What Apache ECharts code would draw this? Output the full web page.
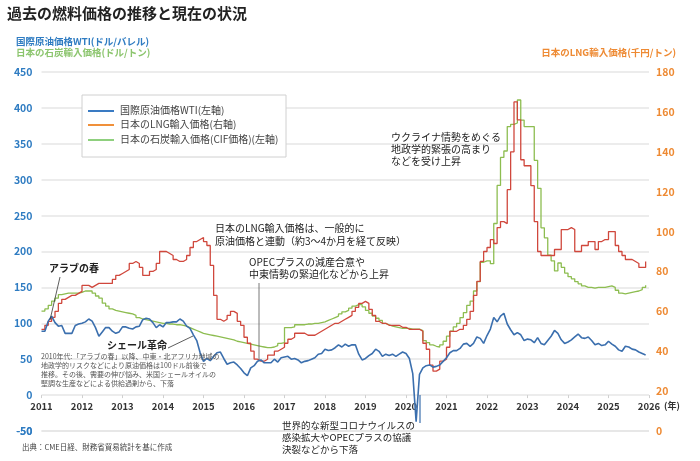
<!DOCTYPE html>
<html>
<head>
<meta charset="utf-8">
<title>過去の燃料価格の推移と現在の状況</title>
<script src="https://cdn.jsdelivr.net/npm/echarts@6/dist/echarts.min.js"></script>
<style>
  html, body { margin: 0; padding: 0; background: #fff; }
  #main { width: 700px; height: 461px; }
</style>
</head>
<body>
<div id="main"></div>
<script>
  // 月次データ 2011年1月〜2025年12月
  var startYear = 2011;
  var years = [2011, 2012, 2013, 2014, 2015, 2016, 2017, 2018, 2019, 2020, 2021, 2022, 2023, 2024, 2025, 2026];

  // 国際原油価格WTI (ドル/バレル) 左軸
  var wti = [
    89, 89, 103, 110, 101, 96, 97, 86, 86, 86, 97, 99,
    100, 102, 106, 103, 94, 82, 88, 94, 94, 89, 86, 88,
    95, 95, 93, 92, 95, 96, 105, 107, 106, 101, 94, 98,
    95, 101, 101, 102, 102, 106, 103, 96, 93, 84, 76, 59,
    47, 51, 48, 54, 59, 60, 51, 43, 45, 46, 42, 37,
    31, 27, 38, 41, 47, 49, 45, 45, 45, 50, 46, 52,
    53, 54, 50, 51, 49, 45, 47, 48, 50, 52, 57, 58,
    64, 62, 63, 66, 70, 67, 71, 68, 70, 70, 57, 49,
    51, 55, 58, 64, 61, 54, 57, 55, 57, 54, 57, 60,
    58, 51, 30, -37, 29, 38, 41, 42, 39, 40, 42, 47,
    52, 59, 62, 62, 65, 71, 72, 68, 72, 81, 79, 72,
    83, 92, 108, 102, 110, 114, 99, 91, 84, 87, 84, 76,
    78, 77, 73, 80, 72, 70, 76, 82, 90, 86, 77, 72,
    74, 77, 81, 85, 80, 79, 81, 76, 70, 72, 69, 70,
    75, 71, 68, 63, 61, 68, 67, 64, 63, 60, 58, 56
  ];

  // 日本のLNG輸入価格 (千円/トン) 右軸
  var lng = [
    51, 53, 55, 57, 60, 64, 66, 67, 68, 68, 69, 70,
    73, 73, 72, 73, 74, 74, 74, 74, 74, 76, 78, 79,
    80, 81, 84, 85, 84, 82, 78, 78, 80, 81, 84, 90,
    90, 89, 88, 86, 85, 85, 86, 88, 92, 95, 96, 97,
    95, 93, 83, 68, 56, 55, 56, 58, 60, 59, 55, 53,
    47, 44, 40, 36, 35, 35, 36, 38, 38, 40, 41, 42,
    44, 46, 47, 49, 49, 49, 48, 48, 48, 49, 50, 51,
    52, 53, 54, 54, 55, 56, 57, 58, 60, 62, 64, 65,
    64, 61, 58, 55, 54, 54, 53, 53, 53, 53, 52, 52,
    51, 51, 51, 51, 50, 44, 41, 33, 30, 31, 35, 36,
    42, 50, 50, 51, 51, 53, 56, 60, 68, 75, 85, 90,
    92, 96, 94, 102, 105, 104, 121, 140, 165, 156, 136, 133,
    133, 123, 105, 90, 88, 88, 88, 88, 91, 91, 101, 101,
    102, 101, 90, 90, 93, 93, 95, 95, 91, 95, 96, 96,
    100, 100, 93, 90, 88, 86, 86, 85, 84, 82, 82, 85
  ];

  // 日本の石炭輸入価格 CIF (ドル/トン) 左軸
  var coal = [
    117, 120, 125, 131, 135, 140, 141, 142, 142, 142, 142, 143,
    145, 145, 145, 142, 138, 135, 128, 124, 120, 118, 117, 116,
    115, 114, 113, 111, 108, 106, 105, 104, 103, 102, 101, 100,
    100, 99, 99, 98, 98, 97, 96, 94, 92, 90, 88, 86,
    85, 84, 83, 82, 81, 80, 79, 78, 77, 75, 74, 73,
    72, 71, 70, 69, 68, 67, 66, 66, 67, 69, 72, 73,
    94, 94, 95, 98, 98, 98, 99, 99, 100, 100, 101, 102,
    104, 106, 108, 110, 113, 116, 118, 121, 124, 126, 126, 123,
    118, 114, 110, 107, 104, 100, 98, 96, 95, 94, 93, 93,
    93, 92, 92, 92, 90, 76, 73, 70, 68, 67, 70, 75,
    82, 89, 95, 100, 108, 115, 125, 131, 145, 158, 185, 187,
    187, 183, 239, 292, 331, 340, 374, 377, 379, 411, 383, 374,
    374, 374, 327, 288, 233, 219, 195, 187, 173, 184, 178, 170,
    165, 162, 158, 155, 152, 150, 150, 149, 150, 150, 150, 151,
    152, 150, 146, 142, 141, 142, 143, 144, 145, 147, 150, 153
  ];

  var leftTicks = { min: -50, max: 450, step: 50 };
  var rightTicks = { min: 0, max: 180, step: 20 };

  function monthly(arr) {
    return arr.map(function (v, i) { return [startYear + i / 12, v]; });
  }

  var font = '"Noto Sans CJK JP", "Noto Sans", sans-serif';
  var blue = '#3b6fae', red = '#d0473c', green = '#8dbd50';
  var leftLabelColor = '#2f7cc2';

  // グリッド：x軸(年)は左軸の0の位置に置く
  var gridTop = 72, gridBottom = 30, chartH = 461;
  var plotH = chartH - gridTop - gridBottom;
  var zeroOffset = -plotH * (0 - leftTicks.min) / (leftTicks.max - leftTicks.min);

  var myChart = echarts.init(document.getElementById('main'));

  var option = {
    animation: false,
    textStyle: { fontFamily: font },
    grid: { left: 41.5, right: 51, top: gridTop, bottom: gridBottom },
    xAxis: {
      type: 'value',
      min: years[0],
      max: years[years.length - 1],
      interval: 1,
      offset: zeroOffset,
      axisLine: { show: false, onZero: false },
      axisTick: { show: true, length: 3, lineStyle: { color: '#cfcfcf' } },
      axisLabel: { color: '#333', fontSize: 9.5, fontWeight: 'bold', margin: 7, formatter: function (v) { return String(v); } },
      splitLine: { show: false }
    },
    yAxis: [
      {
        type: 'value',
        position: 'left',
        min: leftTicks.min, max: leftTicks.max, interval: leftTicks.step,
        axisLine: { show: false },
        axisTick: { show: false },
        axisLabel: { color: leftLabelColor, fontSize: 10.5, fontWeight: 'bold', margin: 9, showMinLabel: true, showMaxLabel: true },
        splitLine: { showMinLine: true, showMaxLine: true, lineStyle: { color: '#e6e6e6', width: 1.5 } }
      },
      {
        type: 'value',
        position: 'right',
        min: rightTicks.min, max: rightTicks.max, interval: rightTicks.step,
        axisLine: { show: false },
        axisTick: { show: false },
        axisLabel: { color: '#ee8a33', fontSize: 10.5, fontWeight: 'bold', margin: 7, showMinLabel: true, showMaxLabel: true },
        splitLine: { show: false }
      }
    ],
    series: [
      {
        name: '日本の石炭輸入価格(CIF価格)(左軸)',
        type: 'line', yAxisIndex: 0, step: 'end', symbol: 'none',
        lineStyle: { color: green, width: 1.3 },
        data: monthly(coal), z: 2
      },
      {
        name: '日本のLNG輸入価格(右軸)',
        type: 'line', yAxisIndex: 1, step: 'end', symbol: 'none',
        lineStyle: { color: red, width: 1.3 },
        data: monthly(lng), z: 3
      },
      {
        name: '国際原油価格WTI(左軸)',
        type: 'line', yAxisIndex: 0, symbol: 'none', clip: false,
        lineStyle: { color: blue, width: 1.6 },
        data: monthly(wti), z: 4,
        // 左軸の最下段 (-50) の目盛線とラベル
        markLine: {
          silent: true,
          symbol: ['none', 'none'],
          lineStyle: { color: '#e6e6e6', width: 1.5, type: 'solid' },
          label: { show: true, position: 'start', distance: 9, color: leftLabelColor, fontSize: 10.5, fontWeight: 'bold', formatter: String(leftTicks.min) },
          data: [{ yAxis: leftTicks.min }]
        }
      }
    ],
    graphic: [
      // タイトル・軸名
      { type: 'text', left: 7, top: 6, style: { text: '過去の燃料価格の推移と現在の状況', font: 'bold 15px ' + font, fill: '#222' } },
      { type: 'text', left: 16, top: 37, style: { text: '国際原油価格WTI(ドル/バレル)', font: 'bold 9.5px ' + font, fill: leftLabelColor } },
      { type: 'text', left: 16, top: 48, style: { text: '日本の石炭輸入価格(ドル/トン)', font: 'bold 9.5px ' + font, fill: '#8cc56e' } },
      { type: 'text', right: 24, top: 48, style: { text: '日本のLNG輸入価格(千円/トン)', font: 'bold 9.5px ' + font, fill: '#ee8a33' } },
      { type: 'text', left: 664, top: 401, style: { text: '(年)', font: 'bold 9px ' + font, fill: '#333' } },

      // 凡例
      { type: 'rect', shape: { x: 82, y: 95, width: 204, height: 62 }, style: { fill: '#fff', stroke: '#d0d0d0', lineWidth: 1 }, z: 10 },
      { type: 'line', shape: { x1: 88, y1: 111, x2: 114, y2: 111 }, style: { stroke: '#3a7bc3', lineWidth: 2 }, z: 11 },
      { type: 'line', shape: { x1: 88, y1: 125, x2: 114, y2: 125 }, style: { stroke: '#f0903a', lineWidth: 2 }, z: 11 },
      { type: 'line', shape: { x1: 88, y1: 140, x2: 114, y2: 140 }, style: { stroke: '#8fd07e', lineWidth: 2 }, z: 11 },
      { type: 'text', left: 120, top: 105, z: 11, style: { text: '国際原油価格WTI(左軸)', font: '10px ' + font, fill: '#444' } },
      { type: 'text', left: 120, top: 119, z: 11, style: { text: '日本のLNG輸入価格(右軸)', font: '10px ' + font, fill: '#444' } },
      { type: 'text', left: 120, top: 134, z: 11, style: { text: '日本の石炭輸入価格(CIF価格)(左軸)', font: '10px ' + font, fill: '#444' } },

      // 注記
      { type: 'text', left: 49, top: 263, z: 12, style: { text: 'アラブの春', font: 'bold 10px ' + font, fill: '#222' } },
      { type: 'line', shape: { x1: 60, y1: 277, x2: 50, y2: 320 }, style: { stroke: '#333', lineWidth: 0.8 }, z: 12 },
      { type: 'text', left: 107, top: 340, z: 12, style: { text: 'シェール革命', font: 'bold 10px ' + font, fill: '#222' } },
      { type: 'line', shape: { x1: 168, y1: 348, x2: 193, y2: 336 }, style: { stroke: '#333', lineWidth: 0.8 }, z: 12 },
      { type: 'text', left: 41, top: 352, z: 12, style: {
        text: '2010年代:「アラブの春」以降、中東・北アフリカ地域の\n地政学的リスクなどにより原油価格は100ドル前後で\n推移。その後、需要の伸び悩み、米国シェールオイルの\n堅調な生産などによる供給過剰から、下落',
        font: '7px ' + font, fill: '#555', lineHeight: 9 } },
      { type: 'text', left: 215, top: 222, z: 12, style: {
        text: '日本のLNG輸入価格は、一般的に\n原油価格と連動（約3～4か月を経て反映）',
        font: '10px ' + font, fill: '#222', lineHeight: 13 } },
      { type: 'text', left: 249, top: 256, z: 12, style: {
        text: 'OPECプラスの減産合意や\n中東情勢の緊迫化などから上昇',
        font: '10px ' + font, fill: '#222', lineHeight: 12 } },
      { type: 'line', shape: { x1: 259, y1: 283, x2: 259, y2: 360 }, style: { stroke: '#555', lineWidth: 0.8 }, z: 12 },
      { type: 'text', left: 391, top: 131, z: 12, style: {
        text: 'ウクライナ情勢をめぐる\n地政学的緊張の高まり\nなどを受け上昇',
        font: '10px ' + font, fill: '#222', lineHeight: 12 } },
      { type: 'line', shape: { x1: 420, y1: 395, x2: 420, y2: 423 }, style: { stroke: '#3b6fae', lineWidth: 1.2 }, z: 12 },
      { type: 'text', left: 282, top: 419, z: 12, style: {
        text: '世界的な新型コロナウイルスの\n感染拡大やOPECプラスの協議\n決裂などから下落',
        font: '9.5px ' + font, fill: '#222', lineHeight: 12 } },
      { type: 'text', left: 22, top: 443, z: 12, style: { text: '出典：CME日経、財務省貿易統計を基に作成', font: '7.5px ' + font, fill: '#444' } }
    ]
  };

  myChart.setOption(option);
  window.addEventListener('resize', function () { myChart.resize(); });
</script>
</body>
</html>
